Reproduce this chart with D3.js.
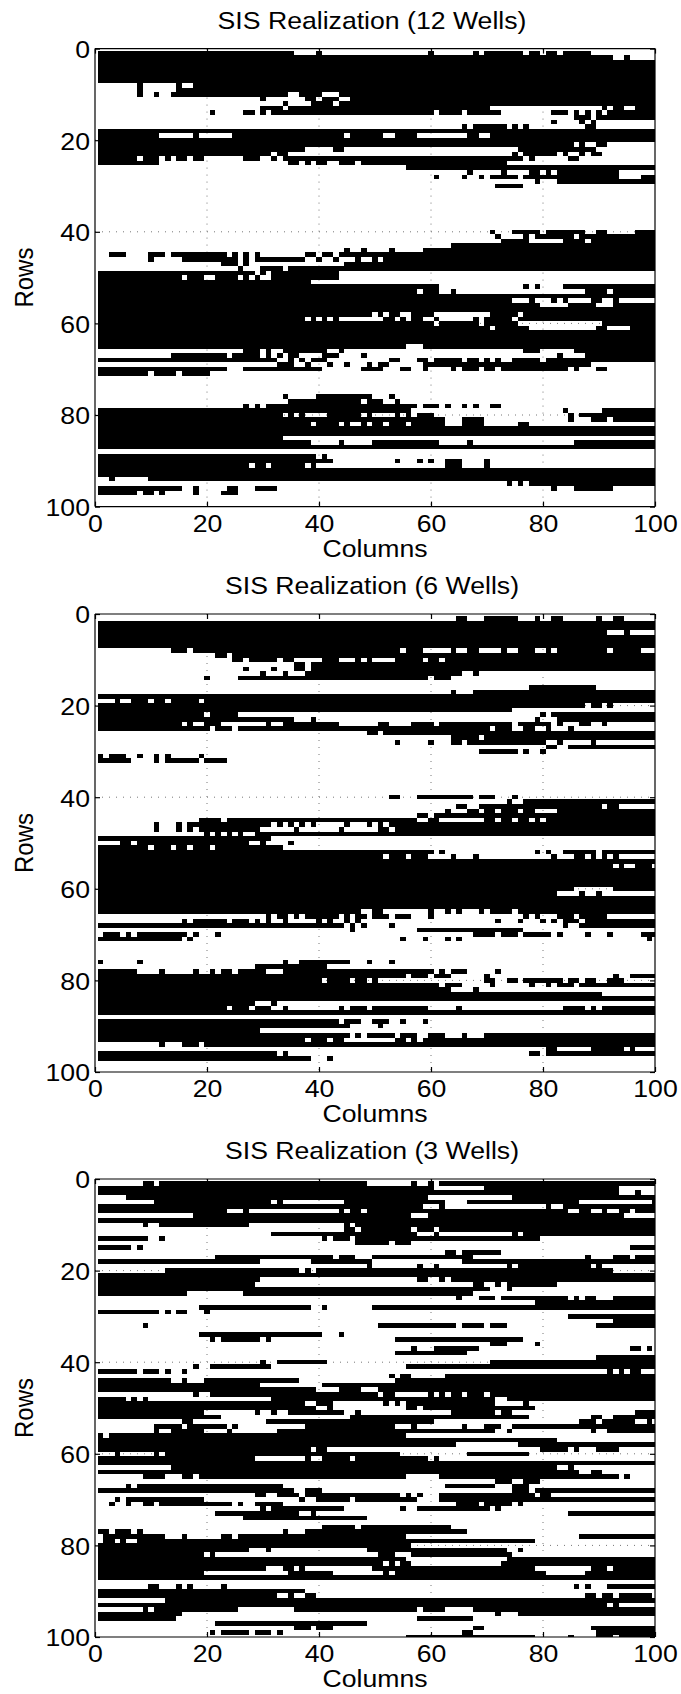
<!DOCTYPE html>
<html>
<head>
<meta charset="utf-8">
<script src="https://cdn.jsdelivr.net/npm/d3@7"></script>
<style>
    html, body { margin: 0; padding: 0; background: #fff; }
    svg { display: block; }
    text { font-family: "Liberation Sans", Arial, sans-serif; fill: #000; }
    .axis text { font-size: 24px; }
    .axis path, .axis line { stroke: #000; stroke-width: 1.2; }
    .grid line { stroke: #777; stroke-width: 1; stroke-dasharray: 1 6; }
</style>
</head>
<body>
<div id="chart"></div>
<script>
// Black runs of each row, "first-last" column numbers, row 1 at the top.
const ROWS_12 = [
    "1-35,40,60,68,70-76,78-79,81-82,84-88", "1-92,95", "1-100", "1-100", "1-100", "1-100", "1-100",
    "8,15,18-100", "8,15-100", "8,11,14-34,37-40,44-100",
    "30,38-39,41-43,46-100", "34,39-42,44-100", "30-33,35-70,91,93-94,97-100",
    "21,27-28,30,32-60,62-65,67-72,82-84,86,88,90,92-100", "86-88,90-100", "82,87,89", "66,68-73,75,77,88-89",
    "1-100", "1-11,18,25-44,46-51,54-57,67-68,71-100", "1-100",
    "1-85,87,90-91", "1-37,43-44,76-89", "1-31,33-34,75,77-82,84,87,89-90",
    "1-7,9-11,13,15-16,18-19,27-29,32,34-76,78,85-86", "1-11,35-36,38,40-41,44-46,48-73", "56-100",
    "67,73,78-79,81,83-93", "61,66,69,71-75,77-93,98-100", "79,83-100", "72-76",
    "", "", "", "", "", "", "", "", "",
    "71,75-79,81-87,90-91,97-100", "72,77,79-85,87-100", "73-77,84-87,89-100", "64-100", "45,48,53,59-100",
    "3-5,10-12,14-23,25,27,29,38-39,41-42,44-100", "10,16-25,27,29-37,40,43,47,50,52-100",
    "23-25,27,45-100", "26,30-33,35-100", "1-28,30,32-43", "1-15,17-19,22-25,27,29,32-43", "1-38",
    "1-61,77,79,84-100", "1-57,59-61,64,88-91,93-100", "1-100", "1-74,78,82,84,89-90,93",
    "1-79,85-89,93-100", "1-100", "1-49,51,53-54,57-60,71-75,77-100",
    "1-37,39,41,43,52-53,55,57-58,61,68,70-74,76-100", "1-60,62-68,70-75,91-100", "1-70,72-77,90-91,96-100",
    "1-100", "1-100", "1-100", "1-55,59-100",
    "27-29,31,34-41,44,77-79,86-100", "14-23,25-29,31,33,35-36,41-43,48,83,88-100",
    "1-32,35,37,39-41,53-54,58-59,61-65,67-68,70,72,75-79,81-100",
    "33-35,38,42,45,49,51-52,59-88", "1-23,27-40,48-51,55-56,59,64,66-68,70-71,73-84,86,90-91",
    "1-9,11-14,16-20", "", "", "", "",
    "34,40-49,53", "35-47,49-51,54", "27,29,31-57,59-61,63,66,68,71-72", "1-56,84,91-100",
    "1-33,35,37,42-47,49,54,56,58-60,85,87-100", "1-62,66-69,85,89-91,93-100",
    "1-38,40-43,45,48,50-51,53-55,57-62,66-69,76-77", "1-100", "1-100", "1-33",
    "1-38,44,50-61,67,86-100", "1-100", "", "1-39,41", "1-42,54,58,60,63-65,70",
    "1-27,29-30,32-37,39,63-65,70", "1-100", "1-100", "3,10-100", "74,76,78-100",
    "1-15,18,24-25,29-32,82,86-92", "1-7,9-10,12,18,23-25", "", "", ""
];

const ROWS_6 = [
    "65-66,70-75,79,82-83,90,93-94", "1-100", "1-100", "1-91,95", "1-100", "1-100", "1-100",
    "14-16,18-54,56-58,64,67-68,73,76-78,81,83-91,93-97", "22-23,25-100",
    "25-26,28-32,34-35,41-43,47,49,54-58,60-61,63-100", "36-37,39-100", "27,32,36-37,39-100",
    "30,34,38-65,68", "20,26-59,61-63", "", "78-89", "64,68-100", "1-100",
    "4,7-9,11-12,14-18,20-100", "1-87,89-90,92", "1-74", "1-19,21-25,80,82-100", "1-35,39,79,83-100",
    "1-15,17,20-22,31,34-43,51-52,57-60,62-74,76-81,83,87-88,91",
    "1-20,22-24,26-70,72-74,77-78,81,85", "49-50,52-100", "64-68,70-100",
    "54,60,64-65,67-80,83,89", "81-82,85-100", "69-75,77,80", "1,3-5,8,11,13,19", "1-6,11,13-18,20-23",
    "", "", "", "", "", "", "",
    "53-54,58-67,69-71,75", "74,77-100", "65-66,69-90,92-93", "63,67-68,70-71,73-75,77-78,83-100",
    "58-59,61-100", "19-22,24-57,60-61,70-71,73-74,76-77,79,81-100",
    "11,15,17-31,33,35,37,39,45,49,51,53-100", "11,15,17,19-29,36,44,51-52,54-100",
    "20,22,24,26,29-100", "1-31", "5-6,8-27,30,35", "1-9,11-13,15-16,18-20,22-33",
    "1-60,62,79,81,84-89,91-100", "1-51,53-55,57-59,64,68,82,86-87,89,91,93", "1-100", "1-92,94,97-99",
    "1-100", "1-100", "1-100", "1-100", "1-85,93-100", "1-82,87,90", "1-100", "1-100", "1-100",
    "1-47,50-51,60,63,65,69,71-74,76-100",
    "31,33-34,36,38-43,45,47-48,50-52,54-56,60,77,79,83-85,87-91",
    "16,18-23,25-27,29,31,34,40,42,45,47,72,76,80,82,84-86,88-100", "1-44,46,48,53,84,87-100", "46,58-76",
    "2-4,6,8-16,18,22,68-71,73-75,77-81,83,88,92,98-100", "1-15,17,55,59,63,65,99",
    "", "", "", "", "1,8,34,37-45,49,53", "29-41",
    "1-7,12,18,21,23-24,26-30,34-60,62,64-66,72", "1-55,57-59,61-63,70,93,96-100",
    "1-40,42-45,47-48,50,70-71,74-75,77-83,85-86,88-89,92-94", "1-61,63-65,71,78,81,83-85,87-100",
    "1-63,68", "1-90", "1-100", "1-28,32",
    "1-23,25-27,29-31,34,44,46-48,50-59,65,84-87,89,91-100", "1-100", "",
    "1-43,45-47,50-52,55,59", "1-45,51", "1-29", "1-45,47,49-53,55-57,60-62,66,70-100",
    "1-37,39-41,43-44,54-55,57,59-100", "12,16-18,20-100", "81-82,89-94,96",
    "1-32,34,78-79,81-100", "1-38,42", "", "", ""
];

const ROWS_3 = [
    "9-10,12-48,57,60,62-100", "1-60,70-93", "1-93,97", "6-59,75-100", "11-31,33,45-62,67-86,100",
    "1-58,62,81,84-100", "1-23,27,44,46-47,49-84,87-88,91,94-95,97-100", "18-56,60-94", "1-100",
    "9,12-27,45,47-100", "45-46,48-56,58-60,62-100", "32-57,61,75,77-100", "1-9,12,41,43-45,47-79",
    "47-52,54-56", "1-6,8,96-100", "63-64,66-72", "22-42,44-46,50-67,88,93-95,97-100",
    "1-29,39-49,66-100", "49,58,61,74,76-88,90", "13-36,38,40-92", "1-100",
    "1-29,58-59,62,64-100", "1-28,68-69,72,74-82", "1-70,74", "1-16,27-67",
    "65,69-71,73-84,86,88-89,93-100", "79-100", "19-38,41,50-100", "1-11,13,15-16,20", "85-100",
    "93-100", "9,51-64,66-69,71-73,90-100", "", "19-40,44", "21,23-29,31,54-76", "71-73,79",
    "57,61-68,96-97,99", "54-66", "90-100", "30,33-41,71-100", "18,21-31,56-100",
    "1-7,9-11,13,16,92,94,96-97", "53,55-56,63-100", "1-13,16,20-36,54-100", "1-29,41-100",
    "1-39,44-47,51-100", "18,21-50,52-53,60,62,64-65,67-69,71-100", "1-5,7,9,32-71,74-100",
    "1-37,40-42,52,54,56-71,77", "1-39,42,56-57,59-78", "1-19,29,32,35-44,47,64-71,73-74,97-100",
    "1-22,46-77,89-90,93-100", "16-17,31-60,87-89,91-96,99",
    "11-15,17-23,25,38-53,57,66,70-72,75-100", "11,14-19,24,33-71,74,89,92-100", "1,3-55", "1-82",
    "1-64,76-100", "1-38,40-41,80-84,86,90-93", "4,11,13-54,67-77", "1-28,38,41-45,47-59,61", "1-100",
    "14-82,85", "1-86,89-90", "9-12,16-17,19-55,62-93,95", "72-74,77-79", "6,8-33,63-71,75-77",
    "1-35,38-40,75-77,79-100", "29-30,33-36,38-54,56,58,62-78,80-81", "4,6-19,37,40-45,47-57,62-100",
    "3,6,9-10,12-24,26,29-33,65-68,70-74,76", "30,32-44,55,58-70,72", "22-36,39,85-100", "27-48", "",
    "41-46,48-63", "1-2,4-6,8,34,38-66", "2-12,16,23-24,26-55,87-100", "2-3,5,8-78", "1-56",
    "1-27,31,49-73,76", "1-19,21,51-53,57-74", "1-55,74-100", "1-51,53,55-56,73-100",
    "1-30,34-35,37,50-78,89-91,93-100", "1-19,35-42,52,54-80,88-100", "1-100", "",
    "10-11,15,17,23,86,88,92-100", "1-37", "1-32,35,38-39,88-89,91-92,94-99", "13-100", "1-91,93",
    "9,11-25,36-57,59-62,68-100", "1-15,72,76-100", "1-14,58-67", "22-48",
    "36-38,40-42,68-69,89-100", "21,23-27,29-31,33,66-67,90-100", "56-78,85,90-92,94-100"
];

const TITLES = ["SIS Realization (12 Wells)", "SIS Realization (6 Wells)", "SIS Realization (3 Wells)"];
const PANELS = [ROWS_12, ROWS_6, ROWS_3];
const TICKS = [0, 20, 40, 60, 80, 100];
const GRID_TICKS = [20, 40, 60, 80];

const WIDTH = 681;
const HEIGHT = 1694;
const panelLeft = 95;
const panelWidth = 560;
const panelHeight = 458;
const panelTops = [48.6, 614, 1179];
// The original figure is stretched sideways, so its text is wider than the font.
const textStretch = 1.11;

const svg = d3.select('#chart').append('svg')
    .attr('width', WIDTH)
    .attr('height', HEIGHT);

const x = d3.scaleLinear().domain([0, 100]).range([0, panelWidth]);
const y = d3.scaleLinear().domain([0, 100]).range([0, panelHeight]);

// "3-5,8" -> [{row, first: 3, last: 5}, {row, first: 8, last: 8}]
const parseRow = (text, i) => text === '' ? [] : text.split(',').map(run => {
    const parts = run.split('-').map(Number);
    return { row: i + 1, first: parts[0], last: parts.length > 1 ? parts[1] : parts[0] };
});

// Widen tick labels around their own anchor.
const stretchTicks = (axis) => axis.selectAll('text').each(function() {
    const label = d3.select(this);
    const anchor = +label.attr('x') || 0;
    label.attr('transform', `translate(${anchor * (1 - textStretch)},0) scale(${textStretch},1)`);
});

svg.append('defs').append('clipPath')
    .attr('id', 'panel-clip')
    .append('rect')
    .attr('width', panelWidth)
    .attr('height', panelHeight);

PANELS.forEach((rows, p) => {
    const g = svg.append('g')
        .attr('transform', `translate(${panelLeft},${panelTops[p]})`);

    // Title and axis labels.
    g.append('text')
        .attr('transform', `translate(${panelWidth / 2 - 3},-20) scale(${textStretch},1)`)
        .attr('text-anchor', 'middle')
        .style('font-size', '24px')
        .text(TITLES[p]);

    g.append('text')
        .attr('transform', `translate(${panelWidth / 2},${panelHeight + 50}) scale(${textStretch},1)`)
        .attr('text-anchor', 'middle')
        .style('font-size', '24px')
        .text('Columns');

    g.append('text')
        .attr('transform', `translate(-62,${panelHeight / 2}) scale(${textStretch},1) rotate(-90)`)
        .attr('text-anchor', 'middle')
        .style('font-size', '24px')
        .text('Rows');

    // Grid goes first so the black cells hide it.
    const grid = g.append('g').attr('class', 'grid');
    grid.selectAll('.vline').data(GRID_TICKS).join('line')
        .attr('class', 'vline')
        .attr('x1', d => x(d)).attr('x2', d => x(d))
        .attr('y1', 0).attr('y2', panelHeight);
    grid.selectAll('.hline').data(GRID_TICKS).join('line')
        .attr('class', 'hline')
        .attr('y1', d => y(d)).attr('y2', d => y(d))
        .attr('x1', 0).attr('x2', panelWidth);

    g.append('g')
        .attr('clip-path', 'url(#panel-clip)')
        .selectAll('rect')
        .data(rows.flatMap(parseRow))
        .join('rect')
        .attr('x', d => x(d.first - 0.5))
        .attr('y', d => y(d.row - 0.5))
        .attr('width', d => x(d.last - d.first + 1))
        .attr('height', y(1))
        .attr('fill', '#000')
        .attr('shape-rendering', 'crispEdges');

    const left = d3.axisLeft(y).tickValues(TICKS).tickSize(-5).tickPadding(5);
    const bottom = d3.axisBottom(x).tickValues(TICKS).tickSize(-5).tickPadding(8);
    const right = d3.axisRight(y).tickValues(TICKS).tickSize(-5).tickFormat('');
    const top = d3.axisTop(x).tickValues(TICKS).tickSize(-5).tickFormat('');

    g.append('g').attr('class', 'axis').call(left)
        .call(a => a.select('.domain').attr('d', `M0,0V${panelHeight}`))
        .call(a => a.selectAll('text').attr('dy', '0.37em'))
        .call(stretchTicks);
    g.append('g').attr('class', 'axis').attr('transform', `translate(0,${panelHeight})`).call(bottom)
        .call(a => a.select('.domain').attr('d', `M0,0H${panelWidth}`))
        .call(stretchTicks);
    g.append('g').attr('class', 'axis').attr('transform', `translate(${panelWidth},0)`).call(right)
        .call(a => a.select('.domain').attr('d', `M0,0V${panelHeight}`));
    g.append('g').attr('class', 'axis').call(top)
        .call(a => a.select('.domain').attr('d', `M0,0H${panelWidth}`));
});
</script>
</body>
</html>
